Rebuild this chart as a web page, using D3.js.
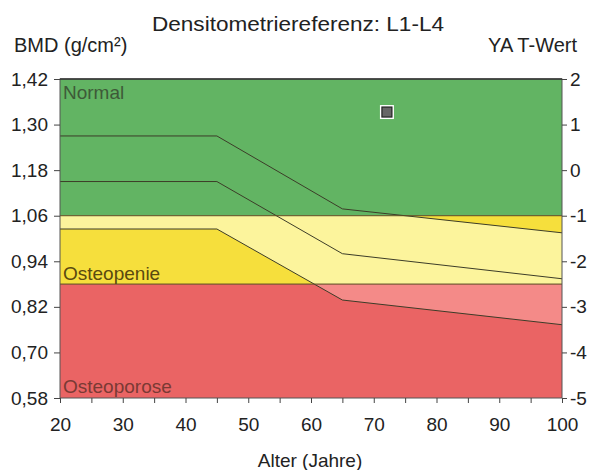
<!DOCTYPE html>
<html>
<head>
<meta charset="utf-8">
<script src="https://cdn.jsdelivr.net/npm/d3@7"></script>
<style>
  body { margin: 0; background: #fff; }
  text { font-family: "Liberation Sans", Arial, sans-serif; }
</style>
</head>
<body>
<div id="chart"></div>
<script>
// reference curves (age -> BMD)
var ages = [20, 45, 65, 100];
var refUpper = [1.27, 1.27, 1.078, 1.015];   // upper line
var refMean = [1.15, 1.15, 0.96, 0.894];     // middle line
var refLower = [1.025, 1.025, 0.838, 0.773]; // lower line

// WHO bands in T-score
var bandNames = ["Normal", "Osteopenie", "Osteoporose"];
var bandTop = [2, -1, -2.5];
var bandBottom = [-1, -2.5, -5];

var bmdTicks = [0.58, 0.70, 0.82, 0.94, 1.06, 1.18, 1.30, 1.42];
var tTicks = [-5, -4, -3, -2, -1, 0, 1, 2];
var ageTicks = [20, 25, 30, 35, 40, 45, 50, 55, 60, 65, 70, 75, 80, 85, 90, 95, 100];

var patient = { age: 72.1, bmd: 1.333 };

var margin = {top: 79, right: 28, bottom: 72, left: 60},
    width = 590 - margin.left - margin.right,
    height = 470 - margin.top - margin.bottom;

var x = d3.scaleLinear().domain([20, 100]).range([0, width]);
var y = d3.scaleLinear().domain([0.58, 1.42]).range([height, 0]);
var yT = d3.scaleLinear().domain([-5, 2]).range([height, 0]);

var svg = d3.select("#chart").append("svg")
    .attr("width", 590)
    .attr("height", 470);

var g = svg.append("g")
    .attr("transform", "translate(" + margin.left + "," + margin.top + ")");

// clip paths for the bands
var defs = svg.append("defs");
bandNames.forEach(function(name, i) {
  defs.append("clipPath").attr("id", "band" + i)
    .append("rect")
    .attr("x", 0)
    .attr("y", yT(bandTop[i]))
    .attr("width", width)
    .attr("height", yT(bandBottom[i]) - yT(bandTop[i]));
});

var darkCol = ["#62b463", "#f6df3c", "#ea6464"];
var lightCol = ["#62b463", "#fcf49c", "#f48a88"];

// band backgrounds
g.selectAll(".band")
  .data(bandNames)
  .enter().append("rect")
  .attr("class", "band")
  .attr("x", 0)
  .attr("y", function(d, i) { return yT(bandTop[i]); })
  .attr("width", width)
  .attr("height", function(d, i) { return yT(bandBottom[i]) - yT(bandTop[i]); })
  .style("fill", function(d, i) { return darkCol[i]; });

// lighter area between upper and lower reference lines
var pts = ages.map(function(a, i) { return {age: a, hi: refUpper[i], lo: refLower[i]}; });
var area = d3.area()
    .x(function(d) { return x(d.age); })
    .y0(function(d) { return y(d.lo); })
    .y1(function(d) { return y(d.hi); });

[1, 2].forEach(function(i) {
  g.append("path")
    .datum(pts)
    .attr("d", area)
    .attr("clip-path", "url(#band" + i + ")")
    .style("fill", lightCol[i]);
});

// reference lines
var line = d3.line()
    .x(function(d) { return x(d[0]); })
    .y(function(d) { return y(d[1]); });

[refUpper, refMean, refLower].forEach(function(vals) {
  g.append("path")
    .datum(ages.map(function(a, i) { return [a, vals[i]]; }))
    .attr("d", line)
    .style("fill", "none")
    .style("stroke", "#3c3c28")
    .style("stroke-width", 1);
});

// band borders
[-1, -2.5].forEach(function(t) {
  g.append("line")
    .attr("x1", 0).attr("x2", width)
    .attr("y1", yT(t)).attr("y2", yT(t))
    .style("stroke", "#5a4a22")
    .style("stroke-width", 1);
});

// frame
g.append("rect")
  .attr("width", width)
  .attr("height", height)
  .style("fill", "none")
  .style("stroke", "#555")
  .style("stroke-width", 1);
g.append("line")
  .attr("x1", 0).attr("x2", width)
  .attr("y1", 0).attr("y2", 0)
  .style("stroke", "#333")
  .style("stroke-width", 1.5);

// band labels
var labelCol = ["#3e5a38", "#5a4a10", "#7a3a34"];
var labelY = [20, 201, 314];
g.selectAll(".bandLabel")
  .data(bandNames)
  .enter().append("text")
  .attr("class", "bandLabel")
  .attr("x", 3)
  .attr("y", function(d, i) { return labelY[i]; })
  .style("font-size", "19px")
  .style("fill", function(d, i) { return labelCol[i]; })
  .text(function(d) { return d; });

// patient marker
g.append("rect")
  .attr("x", x(patient.age) - 7)
  .attr("y", y(patient.bmd) - 7)
  .attr("width", 14)
  .attr("height", 14)
  .style("fill", "#fff");
g.append("rect")
  .attr("x", x(patient.age) - 5)
  .attr("y", y(patient.bmd) - 5)
  .attr("width", 10)
  .attr("height", 10)
  .style("fill", "#666")
  .style("stroke", "#222")
  .style("stroke-width", 1.2);

// axes
var fmt = function(d) { return d3.format(".2f")(d).replace(".", ","); };

var yAxis = d3.axisLeft(y).tickValues(bmdTicks).tickFormat(fmt).tickSize(6).tickPadding(6);
var tAxis = d3.axisRight(yT).tickValues(tTicks)
    .tickFormat(function(d) { return String(d); })
    .tickSize(5).tickPadding(3);
var xAxis = d3.axisBottom(x).tickValues(ageTicks)
    .tickFormat(function(d) { return d % 10 === 0 ? d : ""; })
    .tickSize(5).tickPadding(15);

var ya = g.append("g").attr("class", "axis").call(yAxis);
var ta = g.append("g").attr("class", "axis")
    .attr("transform", "translate(" + width + ",0)").call(tAxis);
var xa = g.append("g").attr("class", "axis")
    .attr("transform", "translate(0," + height + ")").call(xAxis);

g.selectAll(".axis .domain").remove();
g.selectAll(".axis line").style("stroke", "#444");
g.selectAll(".axis text")
  .style("font-family", "'Liberation Sans', Arial, sans-serif")
  .style("font-size", "19px")
  .style("fill", "#222");

// titles
svg.append("text")
  .attr("x", 298).attr("y", 31)
  .attr("textLength", 292)
  .attr("lengthAdjust", "spacingAndGlyphs")
  .style("text-anchor", "middle")
  .style("font-size", "20px")
  .style("fill", "#222")
  .text("Densitometriereferenz: L1-L4");

svg.append("text")
  .attr("x", 14).attr("y", 52)
  .style("font-size", "20px")
  .style("fill", "#222")
  .text("BMD (g/cm²)");

svg.append("text")
  .attr("x", 577).attr("y", 52)
  .style("text-anchor", "end")
  .style("font-size", "20px")
  .style("fill", "#222")
  .text("YA T-Wert");

svg.append("text")
  .attr("x", 310).attr("y", 467)
  .style("text-anchor", "middle")
  .style("font-size", "19px")
  .style("fill", "#222")
  .text("Alter (Jahre)");
</script>
</body>
</html>
